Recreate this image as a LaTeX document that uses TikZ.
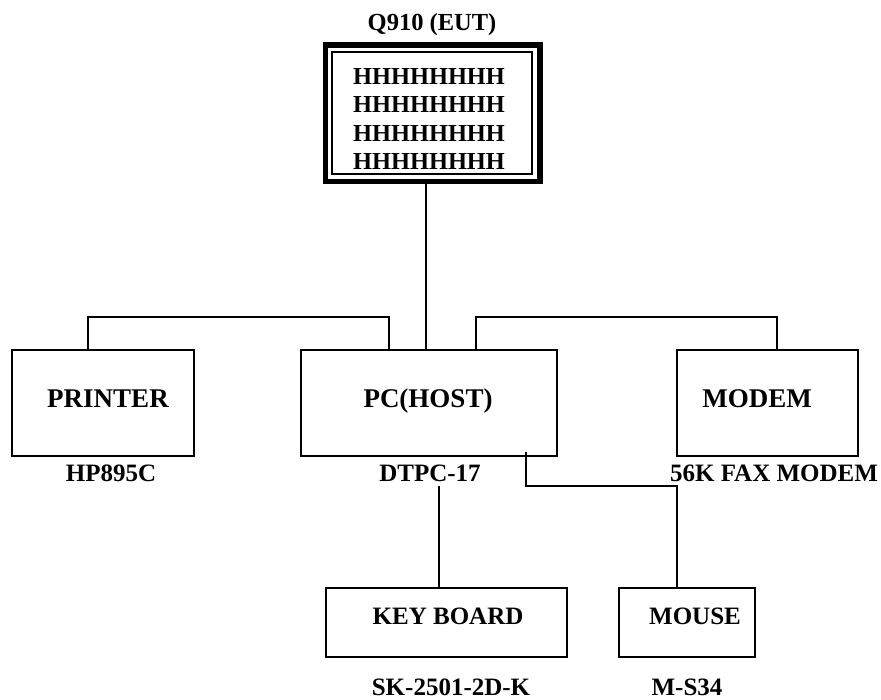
\documentclass[tikz,border=0pt]{standalone}
\usepackage{fontspec}
\setmainfont{Liberation Serif}

\tikzset{
    box/.style={draw, line width=1.8pt, inner sep=0pt},
    boxtext/.style={font=\bfseries\fontsize{27}{30}\selectfont, inner sep=0pt, text height=17.9pt, text depth=0pt},
    smalltext/.style={boxtext, font=\bfseries\fontsize{25}{28}\selectfont, text height=16.5pt},
    tag/.style={smalltext},
    wire/.style={line width=1.8pt},
}

\begin{document}
\begin{tikzpicture}[x=1pt, y=-1pt]
    \useasboundingbox (0,0) rectangle (881,700);

    % equipment under test
    \node[box, line width=5.5pt, minimum width=214.5pt, minimum height=136.5pt] (eut) at (432.75,113.25) {};
    \node[box, minimum width=200pt, minimum height=122pt] (eutin) at (432,113) {};
    \node[tag, font=\bfseries\fontsize{24.5}{28}\selectfont, text height=16.2pt] (eutname) at (432,22) {Q910 (EUT)};
    \node[font=\bfseries\fontsize{24.4}{28.6}\selectfont, align=center, inner sep=0pt] (eutscreen) at (429,119)
        {HHHHHHHH\\HHHHHHHH\\HHHHHHHH\\HHHHHHHH};

    % peripherals
    \node[box, minimum width=182pt, minimum height=106pt, label={[boxtext, xshift=5pt, yshift=4.5pt]center:PRINTER}] (printer) at (103,403) {};
    \node[box, minimum width=256pt, minimum height=106pt, label={[boxtext, xshift=-1pt, yshift=4pt]center:PC(HOST)}] (pc) at (429,403) {};
    \node[box, minimum width=181pt, minimum height=106pt, label={[boxtext, xshift=-10.5pt, yshift=4.5pt]center:MODEM}] (modem) at (767.5,403) {};
    \node[box, minimum width=241pt, minimum height=69pt, label={[smalltext, xshift=1.5pt, yshift=6.5pt]center:KEY BOARD}] (keyboard) at (446.5,622.5) {};
    \node[box, minimum width=136pt, minimum height=69pt, label={[smalltext, xshift=8pt, yshift=6.5pt]center:MOUSE}] (mouse) at (687,622.5) {};

    % model numbers
    \node[tag] (printermodel) at (111,473) {HP895C};
    \node[tag] (pcmodel) at (430,473) {DTPC-17};
    \node[tag] (modemmodel) at (774,473) {56K FAX MODEM};
    \node[tag] (keyboardmodel) at (451,687.5) {SK-2501-2D-K};
    \node[tag] (mousemodel) at (687,687.5) {M-S34};

    % cables
    \draw[wire] ([xshift=-3pt]pc.north) -- ([xshift=-3pt]pc.north |- eut.south);
    \draw[wire] ([xshift=-15pt]printer.north) -- ++(0,-32) -| ([xshift=-40pt]pc.north);
    \draw[wire] ([xshift=47pt]pc.north) -- ++(0,-32) -| ([xshift=9.5pt]modem.north);
    \draw[wire] ([xshift=-7.5pt]keyboard.north) -- ++(0,-101);
    \draw[wire] ([xshift=97pt, yshift=5pt]pc.south) -- ++(0,34) -| ([xshift=-10pt]mouse.north);
%    \draw[wire] (pcmodel.south) -- (keyboard.north);
\end{tikzpicture}
\end{document}
